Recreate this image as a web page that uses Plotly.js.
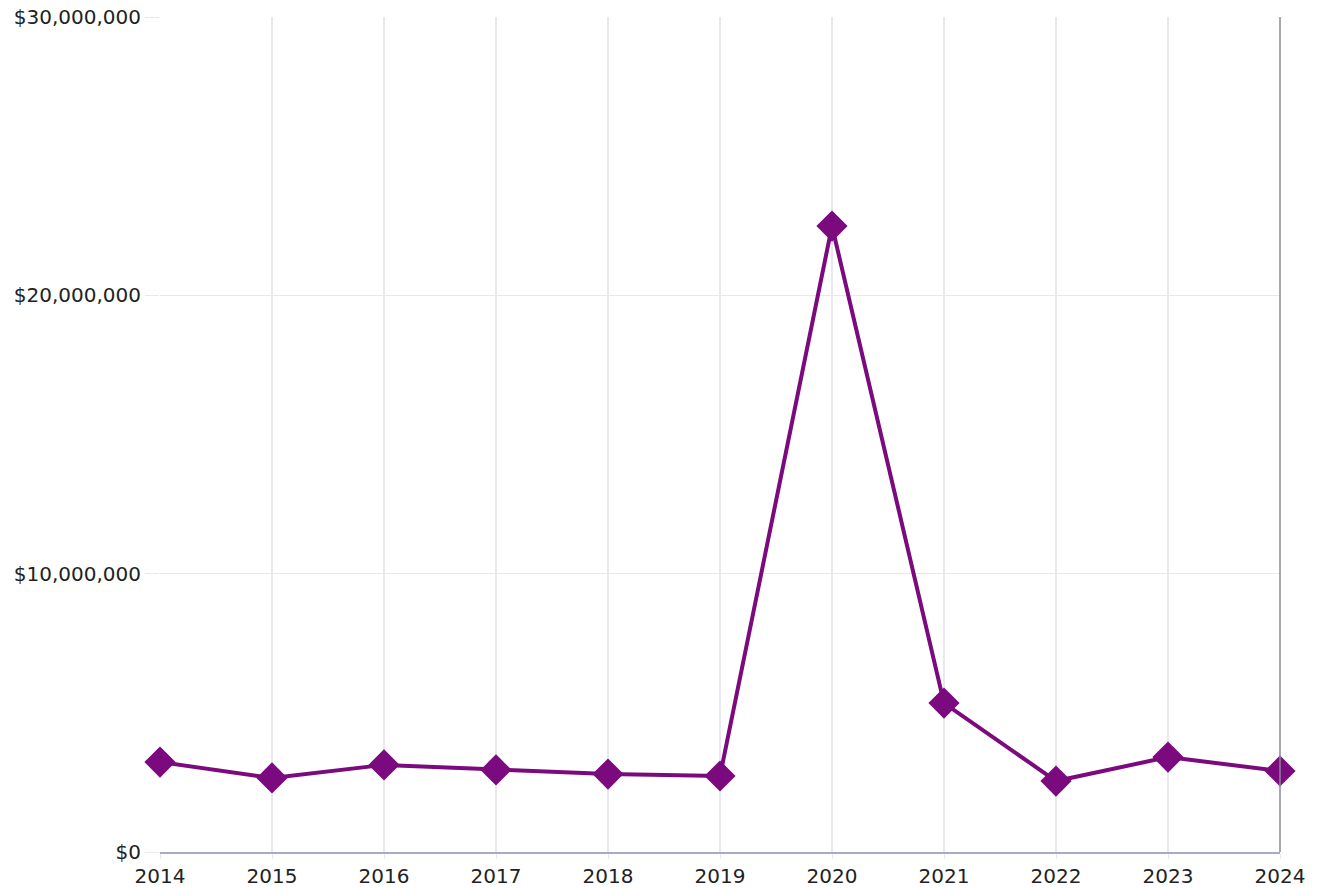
<!DOCTYPE html>
<html><head><meta charset="utf-8">
<script src="https://cdn.plot.ly/plotly-3.0.1.min.js"></script>
<style>html,body{margin:0;padding:0;background:#fff}#chart{width:1319px;height:888px}</style>
</head><body><div id="chart"></div>
<script>
const years = [2014,2015,2016,2017,2018,2019,2020,2021,2022,2023,2024];
const amounts = [3230000,2660000,3130000,2950000,2800000,2730000,22490000,5350000,2550000,3410000,2910000];
const yTickVals = [0,10000000,20000000,30000000];
const yTickText = ['$0','$10,000,000','$20,000,000','$30,000,000'];

Plotly.newPlot('chart',[{
  x: years, y: amounts, type:'scatter', mode:'lines+markers',
  line:{color:'#7a0a7e', width:4},
  marker:{symbol:'diamond', size:24, color:'#7a0a7e'},
  cliponaxis:false, hoverinfo:'x+y'
}],{
  width:1319, height:888,
  margin:{l:160,r:39,t:17,b:36},
  paper_bgcolor:'#fff', plot_bgcolor:'#fff',
  showlegend:false,
  font:{family:'DejaVu Sans, Verdana, sans-serif', size:20, color:'#222'},
  xaxis:{range:[2014,2024], tickvals:years, ticktext:years.map(String),
    showgrid:true, gridcolor:'#e8e8f2', gridwidth:1.5, zeroline:false,
    showline:true, linecolor:'#a9a9c9', linewidth:1.5,
    ticks:'outside', ticklen:5, tickcolor:'#e8e8f2', tickfont:{size:20}},
  yaxis:{range:[0,30000000], tickvals:yTickVals, ticktext:yTickText,
    showgrid:true, gridcolor:'#e8e8f2', gridwidth:1.5, zeroline:false,
    showline:false, ticks:'outside', ticklen:14, tickcolor:'#e8e8f2', tickfont:{size:20}},
  shapes:[{type:'line', xref:'paper', yref:'paper', x0:1, x1:1, y0:0, y1:1, line:{color:'#8a8a9a', width:1.5}}]
},{displayModeBar:false, staticPlot:true});
</script></body></html>
